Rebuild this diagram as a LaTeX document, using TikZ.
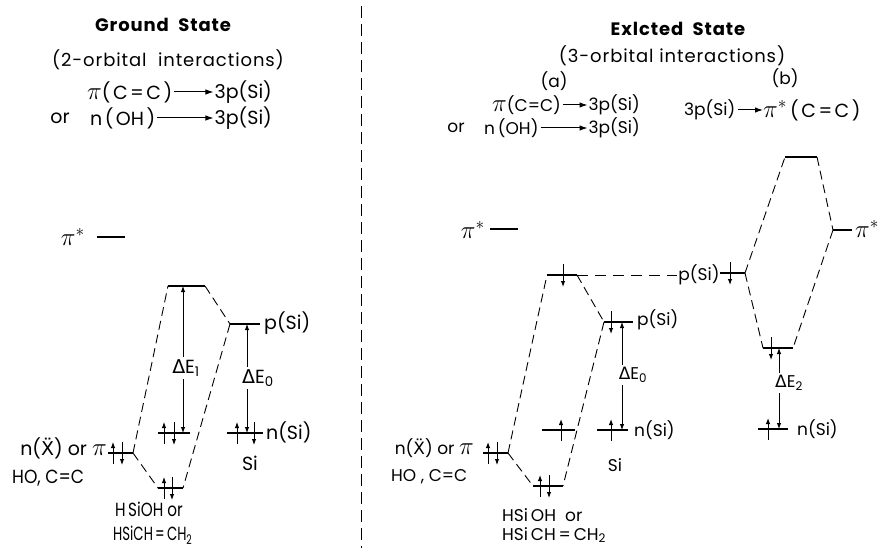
\documentclass[tikz,border=0pt]{standalone}
\usepackage{fontspec}
\setmainfont{Poppins}
\newfontfamily\wide{Poppins}[LetterSpace=5]
\newfontfamily\dvs{DejaVu Sans}
\usetikzlibrary{arrows.meta}
\newcommand{\Dlt}{{\dvs Δ}}
\newcommand{\Xdd}{{\dvs Ẍ}}
\newcommand{\PI}{{\fontsize{25}{25}\selectfont$\pi$}}
\newcommand{\PIs}{{\fontsize{27}{27}\selectfont$\pi^{*}$}}
\newcommand{\PIt}{{\fontsize{24}{24}\selectfont$\pi^{*}$}}
\newcommand{\gsp}{\hspace{2.5pt}}
\tikzset{
  lvl/.style={line width=2.6pt},
  pilvl/.style={line width=1.8pt},
  conn/.style={line width=0.9pt, dash pattern=on 9pt off 5pt},
  hconn/.style={line width=0.9pt, dash pattern=on 11pt off 7pt},
  divider/.style={line width=0.8pt, dash pattern=on 12pt off 6pt},
  elec/.style={line width=1pt, -{Latex[length=6pt,width=4.5pt]}},
  gaparrow/.style={line width=0.9pt, {Latex[length=6pt,width=4.5pt]}-{Latex[length=6pt,width=4.5pt]}},
  tarr/.style={line width=1pt, -{Latex[length=8pt,width=5.5pt]}, shorten <=1pt},
  lab/.style={font=\fontsize{19}{22}\selectfont, inner sep=1pt},
  labr/.style={font=\fontsize{17}{20}\selectfont, inner sep=1pt},
  ttl/.style={font=\wide\bfseries\fontsize{18}{22}\selectfont, inner sep=1pt},
  ttlb/.style={font=\wide\fontsize{18}{22}\selectfont, inner sep=1pt},
  dlab/.style={fill=white, inner sep=2pt},
  eu/.pic={\draw[elec] (0,11) -- (0,-11);},
  ed/.pic={\draw[elec] (0,-11) -- (0,12);},
}
\begin{document}
\begin{tikzpicture}[x=1pt,y=-1pt]
\path[use as bounding box, fill=white] (0,0) rectangle (891,548);

% ---------- divider ----------
\coordinate (dvt) at (361,6);
\coordinate (dvb) at (361,548);
\draw[divider] (dvt) -- (dvb);

% ---------- left titles ----------
\node[ttl] (gs) at (163,25) {Ground\ \ State};
\node[ttlb] (gi) at (168,60) {(2-orbital\ \ interactions)};
\node[lab, anchor=west] (g1a) at (86,92) {\PI(\gsp C\gsp=\gsp C\gsp)};
\node[lab, anchor=east] (g1b) at (273,92) {3p(Si)};
\draw[tarr] (g1a) -- (g1b);
\node[lab] (gor) at (60,118) {or};
\node[lab, anchor=west] (g2a) at (89,118) {n\gsp(\gsp OH\gsp)};
\node[lab, anchor=east] (g2b) at (273,118) {3p(Si)};
\draw[tarr] (g2a) -- (g2b);

% ---------- right titles ----------
\node[ttl] (es) at (678,29) {Exlcted\ \ State};
\node[ttlb] (ei) at (672,56) {(3-orbital interactions)};
\node[labr] (ta) at (554,81) {(a)};
\node[labr, anchor=west] (a1a) at (491,105) {\PI(C=C)};
\node[labr, anchor=east] (a1b) at (641,105) {3p(Si)};
\draw[tarr] (a1a) -- (a1b);
\node[labr] (aor) at (456,128) {or};
\node[labr, anchor=west] (a2a) at (483,128) {n\,(OH)};
\node[labr, anchor=east] (a2b) at (641,128) {3p(Si)};
\draw[tarr] (a2a) -- (a2b);
\node[labr] (tb) at (785,78) {(b)};
\node[labr, anchor=west] (b1a) at (683,110) {3p(Si)};
\node[lab, anchor=west, inner sep=0pt] (b1b) at (763,110) {\PIt\,(\gsp C\gsp=\gsp C\gsp)};
\draw[tarr] (b1a) -- (b1b);

% ================= LEFT PANEL =================
\node[lab, anchor=east] (piL) at (86,237) {\PIs};
\coordinate (piLa) at (97,237); \coordinate (piLb) at (125,237);
\draw[pilvl] (piLa) -- (piLb);

\coordinate (T1a) at (168,286); \coordinate (T1b) at (205,286);
\coordinate (P1a) at (230,324); \coordinate (P1b) at (260,324);
\coordinate (M1a) at (158,433); \coordinate (M1b) at (190,433);
\coordinate (N1a) at (227,433); \coordinate (N1b) at (263,433);
\coordinate (X1a) at (108,453); \coordinate (X1b) at (133,453);
\coordinate (B1a) at (158,488); \coordinate (B1b) at (183,488);
\foreach \a/\b in {T1a/T1b,P1a/P1b,M1a/M1b,N1a/N1b,X1a/X1b,B1a/B1b}
  \draw[lvl] (\a) -- (\b);

\draw[conn] (X1b) -- (T1a);
\draw[conn] (X1b) -- (B1a);
\draw[conn] (T1b) -- (P1a);
\draw[conn] (P1a) -- (B1b);

\node[lab, anchor=west] (p1l) at (263,323) {p(Si)};
\node[lab, anchor=west] (n1l) at (265,432) {n(Si)};
\node[lab] (si1) at (250,463) {Si};
\node[lab, anchor=east, inner sep=0pt] (x1l) at (107,448) {n(\Xdd) or \smash{\PI}};
\node[lab, anchor=west, inner sep=0pt] (x1l2) at (12,478) {\scalebox{0.9}[1]{HO, C=C}};
\node[lab, anchor=west] (b1l) at (114,509) {\scalebox{0.8}[1]{H\,SiOH or}};
\node[lab, anchor=west] (b1l2) at (112,535) {\scalebox{0.7}[1]{HSiCH\,=\,CH\textsubscript{2}}};

% electrons
\pic at (113,453) {eu}; \pic at (122,453) {ed};
\pic at (164,433) {eu}; \pic at (174,433) {ed};
\pic at (237,433) {eu}; \pic at (254,433) {ed};
\pic at (164,488) {eu}; \pic at (172,488) {ed};

% energy gaps
\coordinate (E1b) at (183,433); \coordinate (E1t) at (183,286);
\draw[gaparrow] (E1b) -- (E1t);
\node[lab, dlab] (E1) at (186,368) {\Dlt E\textsubscript{1}};
\coordinate (E0b) at (247,433); \coordinate (E0t) at (247,324);
\draw[gaparrow] (E0b) -- (E0t);
\node[lab, dlab] (E0) at (258,378) {\Dlt E\textsubscript{0}};

% ================= RIGHT PANEL (a) =================
\node[lab, anchor=east] (piR) at (486,230) {\PIs};
\coordinate (piRa) at (490,229); \coordinate (piRb) at (518,229);
\draw[pilvl] (piRa) -- (piRb);

\coordinate (T2a) at (547,275); \coordinate (T2b) at (577,275);
\coordinate (P2a) at (604,322); \coordinate (P2b) at (633,322);
\coordinate (M2a) at (542,430); \coordinate (M2b) at (575,430);
\coordinate (N2a) at (597,430); \coordinate (N2b) at (628,430);
\coordinate (X2a) at (483,453); \coordinate (X2b) at (508,453);
\coordinate (B2a) at (533,486); \coordinate (B2b) at (563,486);
\foreach \a/\b in {T2a/T2b,P2a/P2b,M2a/M2b,N2a/N2b,X2a/X2b,B2a/B2b}
  \draw[lvl] (\a) -- (\b);

\draw[conn] (X2b) -- (T2a);
\draw[conn] (X2b) -- (B2a);
\draw[conn] (T2b) -- (P2a);
\draw[conn] (P2a) -- (B2b);

\node[labr, anchor=west] (p2l) at (636,320) {p(Si)};
\node[labr, anchor=west] (n2l) at (633,430) {n(Si)};
\node[labr] (si2) at (615,465) {Si};
\node[labr, anchor=east, inner sep=0pt] (x2l) at (474,448) {n(\Xdd) or \smash{\PI}};
\node[labr, anchor=west, inner sep=0pt] (x2l2) at (391,477) {HO\ , C=C};
\node[labr, anchor=west] (b2l) at (501,515) {HSi\,OH\ \ or};
\node[labr, anchor=west] (b2l2) at (501,535) {HSi\,CH\,=\,CH\textsubscript{2}};

\pic at (563,275) {ed};
\pic at (611,322) {ed};
\pic at (561,430) {eu};
\pic at (611,430) {eu};
\pic at (488,453) {eu}; \pic at (497,453) {ed};
\pic at (540,486) {eu}; \pic at (549,486) {ed};

\coordinate (E0rb) at (622,430); \coordinate (E0rt) at (622,322);
\draw[gaparrow] (E0rb) -- (E0rt);
\node[labr, dlab] (E0r) at (633,375) {\Dlt E\textsubscript{0}};

% ================= RIGHT PANEL (b) =================
\node[labr] (pbl) at (699,275) {p(Si)};
\draw[hconn] (T2b) -- (pbl);
\coordinate (Pba) at (720,273); \coordinate (Pbb) at (745,273);
\coordinate (Tba) at (785,157); \coordinate (Tbb) at (817,157);
\coordinate (Sba) at (833,230); \coordinate (Sbb) at (852,230);
\coordinate (Lba) at (763,348); \coordinate (Lbb) at (793,348);
\coordinate (Nba) at (758,429); \coordinate (Nbb) at (788,429);
\foreach \a/\b in {Pba/Pbb,Tba/Tbb,Lba/Lbb,Nba/Nbb}
  \draw[lvl] (\a) -- (\b);
\draw[pilvl] (Sba) -- (Sbb);
\node[labr, anchor=west, inner sep=0pt] (sbl) at (855,229) {\PIs};

\draw[conn] (Pbb) -- (Tba);
\draw[conn] (Pbb) -- (Lba);
\draw[conn] (Tbb) -- (Sba);
\draw[conn] (Sba) -- (Lbb);

\pic at (730,273) {ed};
\pic at (771,348) {ed};
\pic at (768,429) {eu};

\coordinate (E2b) at (779,429); \coordinate (E2t) at (779,348);
\draw[gaparrow] (E2b) -- (E2t);
\node[labr, dlab] (E2) at (789,383) {\Dlt E\textsubscript{2}};
\node[labr, anchor=west] (nbl) at (796,429) {n(Si)};

\end{tikzpicture}
\end{document}
